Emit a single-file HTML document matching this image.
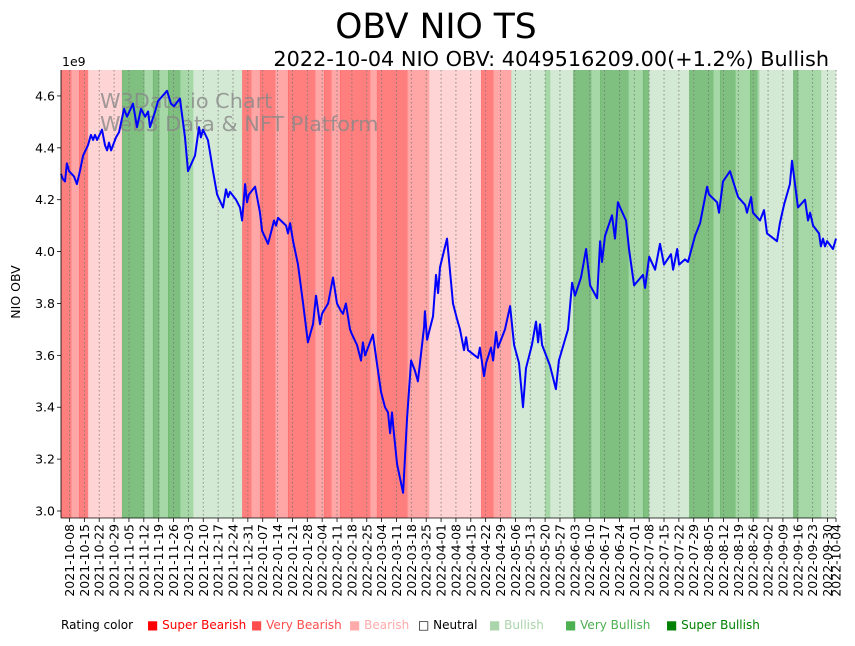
<!DOCTYPE html>
<html><head><meta charset="utf-8"><style>
body{margin:0;background:#fff;}
svg text{font-family:"DejaVu Sans","Liberation Sans",sans-serif;}
</style></head><body>
<svg id="chart" width="855" height="641" xmlns="http://www.w3.org/2000/svg">
<text x="436" y="38" font-size="34.5" text-anchor="middle">OBV NIO TS</text>
<text x="829" y="66" font-size="20.8" text-anchor="end">2022-10-04 NIO OBV: 4049516209.00(+1.2%) Bullish</text>
<text x="62" y="66" font-size="12.5">1e9</text>
<text transform="translate(20,292) rotate(-90)" font-size="12.5" text-anchor="middle">NIO OBV</text>
<g id="bands"></g>
<g id="grid"></g>
<text x="100" y="108" font-size="20.8" fill="#888" fill-opacity="0.8">W3Data.io Chart</text>
<text x="100" y="131" font-size="20.8" fill="#888" fill-opacity="0.8">Web3 Data &amp; NFT Platform</text>
<path id="line" fill="none" stroke="#0000ff" stroke-width="2" stroke-linejoin="round"/>
<g id="axes"></g>
<g id="legend"></g>
</svg>
<script>
const days=[0,0.9,1.9,2.8,3.8,6.1,7.5,8.9,10.4,12.7,14.1,15.1,16.0,17.0,19.3,20.7,21.7,22.6,23.6,25.9,27.3,29.7,31.1,33.9,35.8,37.7,39.6,41.0,41.9,44.3,45.7,49.9,51.8,53.2,56.0,58.4,59.8,63.1,65.0,65.9,66.9,69.2,70.2,71.6,73.5,76.3,77.7,78.7,79.6,82.4,84.3,85.3,86.7,87.6,88.5,91.4,93.7,94.7,97.5,99.4,100.3,101.3,102.2,106.0,106.9,107.9,109.3,111.6,114.0,116.3,118.7,120.1,122.0,122.9,125.8,128.1,130.0,131.9,132.8,134.2,136.1,137.1,139.4,141.3,142.2,143.2,146.9,148.8,150.7,152.6,154.0,155.0,155.9,156.8,158.3,161.1,163.0,164.9,166.7,168.1,171.0,171.4,172.4,175.2,176.6,177.6,178.5,181.8,184.6,186.5,187.9,189.8,190.8,191.7,196.4,197.3,199.2,200.2,202.5,203.5,204.9,205.8,209.1,211.5,213.4,215.7,217.6,219.0,221.8,223.7,224.7,225.6,226.6,230.3,233.1,234.5,238.8,240.7,242.1,244.9,247.3,249.2,252.5,253.9,254.8,256.2,259.5,260.9,262.3,263.3,266.1,267.5,269.9,274.1,275.1,277.0,279.8,282.1,284.0,287.3,288.3,290.2,291.1,293.9,295.3,298.6,301.0,304.3,305.2,309.0,309.9,311.8,315.1,318.9,322.2,323.1,325.0,325.9,329.2,331.1,332.5,337.2,338.6,340.5,343.3,344.3,347.1,350.4,351.8,352.8,354.2,357.0,357.9,358.9,359.8,360.8,363.6,365.0];
const obv=[4.30,4.28,4.27,4.34,4.31,4.29,4.26,4.31,4.37,4.41,4.45,4.43,4.45,4.43,4.47,4.41,4.39,4.42,4.39,4.44,4.46,4.55,4.52,4.57,4.48,4.55,4.52,4.54,4.48,4.54,4.58,4.62,4.57,4.56,4.59,4.44,4.31,4.37,4.48,4.44,4.47,4.43,4.38,4.31,4.22,4.17,4.24,4.21,4.23,4.20,4.17,4.12,4.26,4.19,4.22,4.25,4.15,4.08,4.03,4.09,4.12,4.10,4.13,4.10,4.07,4.11,4.04,3.95,3.80,3.65,3.72,3.83,3.72,3.76,3.80,3.90,3.80,3.77,3.76,3.80,3.70,3.68,3.64,3.58,3.65,3.60,3.68,3.57,3.46,3.40,3.38,3.30,3.38,3.30,3.18,3.07,3.36,3.58,3.54,3.50,3.71,3.77,3.66,3.75,3.91,3.84,3.94,4.05,3.80,3.74,3.70,3.62,3.67,3.62,3.59,3.63,3.52,3.57,3.63,3.58,3.69,3.63,3.70,3.79,3.64,3.57,3.40,3.55,3.64,3.73,3.65,3.72,3.64,3.56,3.47,3.58,3.70,3.88,3.83,3.90,4.01,3.87,3.82,4.04,3.96,4.06,4.14,4.05,4.19,4.17,4.12,4.01,3.87,3.91,3.86,3.98,3.93,4.03,3.95,3.99,3.93,4.01,3.95,3.97,3.96,4.06,4.11,4.25,4.22,4.19,4.15,4.27,4.31,4.21,4.18,4.15,4.21,4.15,4.12,4.16,4.07,4.04,4.11,4.18,4.26,4.35,4.17,4.20,4.12,4.15,4.10,4.07,4.02,4.05,4.02,4.04,4.01,4.05];
const bandStart=[0,4.7,8.5,12.7,28.7,39.1,43.3,46.2,50.4,56,62.2,85.3,89.5,93.7,100.8,106.9,119.6,123.9,127.2,131.4,145.5,148.8,163,173.3,197.8,203.5,212,228,230.3,241.2,249.6,253.9,267.1,274.1,276.9,295.8,307.1,310.4,317.5,324.5,327.8,328.8,344.8,347.1,357.9];
const bandRating=[-3,-2,-3,-1,3,2,3,2,3,2,1,-3,-2,-3,-2,-3,-2,-3,-2,-3,-2,-3,-2,-1,-3,-2,1,2,1,3,2,3,2,3,1,3,2,3,2,3,2,1,3,2,1];
const yTicks=[3.0,3.2,3.4,3.6,3.8,4.0,4.2,4.4,4.6];
const xTickLabels=["2021-10-08","2021-10-15","2021-10-22","2021-10-29","2021-11-05","2021-11-12","2021-11-19","2021-11-26","2021-12-03","2021-12-10","2021-12-17","2021-12-24","2021-12-31","2022-01-07","2022-01-14","2022-01-21","2022-01-28","2022-02-04","2022-02-11","2022-02-18","2022-02-25","2022-03-04","2022-03-11","2022-03-18","2022-03-25","2022-04-01","2022-04-08","2022-04-15","2022-04-22","2022-04-29","2022-05-06","2022-05-13","2022-05-20","2022-05-27","2022-06-03","2022-06-10","2022-06-17","2022-06-24","2022-07-01","2022-07-08","2022-07-15","2022-07-22","2022-07-29","2022-08-05","2022-08-12","2022-08-19","2022-08-26","2022-09-02","2022-09-09","2022-09-16","2022-09-23","2022-09-30","2022-10-04"];
const ratingNames=["Super Bearish","Very Bearish","Bearish","Neutral","Bullish","Very Bullish","Super Bullish"];
const ratingColors=["#ff0000","#ff4d4d","#ffaaaa","#ffffff","#aad4aa","#4caf50","#008000"];

const NS="http://www.w3.org/2000/svg";
const X0=61,X1=836,D0=0,D1=365,YT=70,YB=518,V0=2.973,V1=4.70;
const xs=d=>X0+(d-D0)/(D1-D0)*(X1-X0);
const ys=v=>YB-(v-V0)/(V1-V0)*(YB-YT);
const base=new Date(Date.UTC(2021,9,4));
const dayOf=s=>(Date.parse(s+"T00:00:00Z")-base)/86400000;
function mk(tag,attrs,parent){const e=document.createElementNS(NS,tag);for(const k in attrs)e.setAttribute(k,attrs[k]);parent.appendChild(e);return e;}

const bands=document.getElementById('bands');
bandStart.forEach((s,i)=>{
  const e=i+1<bandStart.length?bandStart[i+1]:D1;
  const r=mk('rect',{x:xs(s),y:YT,width:xs(e)-xs(s)+0.3,height:YB-YT,fill:ratingColors[bandRating[i]+3],'fill-opacity':0.5},bands);
  
  
});
const grid=document.getElementById('grid'),axes=document.getElementById('axes');
xTickLabels.forEach(lbl=>{
  const x=xs(dayOf(lbl));
  const g=mk('line',{x1:x,x2:x,y1:YT,y2:YB,stroke:'#777','stroke-width':0.8,'stroke-dasharray':'1.5,2.5'},grid);
  
  
  mk('line',{x1:x,x2:x,y1:YB,y2:YB+4,stroke:'#000','stroke-width':0.8},axes);
  const t=mk('text',{transform:`translate(${x+4.5},${YB+6}) rotate(-90)`,'font-size':12.5,'text-anchor':'end'},axes);
  t.textContent=lbl;
  
  
});
yTicks.forEach(v=>{
  const y=ys(v);
  mk('line',{x1:X0-4,x2:X0,y1:y,y2:y,stroke:'#000','stroke-width':0.8},axes);
  const t=mk('text',{x:X0-6,y:y+4.5,'font-size':12.5,'text-anchor':'end'},axes);
  t.textContent=v.toFixed(1);
  
  
});
mk('line',{x1:X0,x2:X0,y1:YT,y2:YB,stroke:'#000','stroke-width':0.8},axes);
mk('line',{x1:X0,x2:X1,y1:YB,y2:YB,stroke:'#000','stroke-width':0.8},axes);
document.getElementById('line').setAttribute('d',days.map((d,i)=>(i?'L':'M')+xs(d).toFixed(1)+','+ys(obv[i]).toFixed(1)).join(''));

const leg=document.getElementById('legend');
const lt=mk('text',{x:61,y:629,'font-size':12},leg);lt.textContent='Rating color';


const lx=[147,251,349,418,489,565,666];
ratingNames.forEach((n,i)=>{
  const sq=mk('text',{x:lx[i],y:629,'font-size':12,fill:i==3?'#000':ratingColors[i]},leg);
  sq.textContent=(i==3?'□ ':'■ ')+n;
  
  
});
</script>
</body></html>
